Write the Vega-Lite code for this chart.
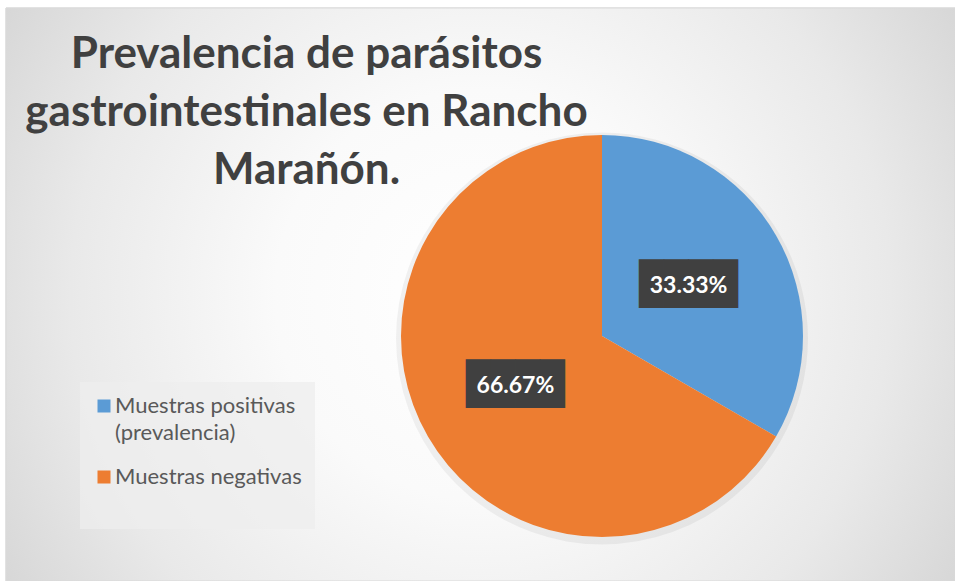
{
  "$schema": "https://vega.github.io/schema/vega-lite/v6.json",
  "width": 949,
  "height": 573,
  "autosize": {"type": "none"},
  "padding": {"left": 6, "top": 8, "right": 0, "bottom": 0},
  "background": "#ffffff",
  "title": {
    "text": ["Prevalencia de parásitos", "gastrointestinales en Rancho", "Marañón."],
    "anchor": "middle",
    "frame": "group",
    "dx": -174,
    "dy": 185,
    "offset": 0,
    "font": "Lato",
    "fontSize": 44,
    "fontWeight": "bold",
    "color": "#404040",
    "lineHeight": 58
  },
  "data": {
    "values": [
      {"categoria": "Muestras positivas (prevalencia)", "proporcion": 0.3333},
      {"categoria": "Muestras negativas", "proporcion": 0.6667}
    ]
  },
  "layer": [
    {
      "mark": {
        "type": "rect",
        "stroke": "#d9d9d9",
        "strokeWidth": 1,
        "fill": {
          "gradient": "radial",
          "x1": 0.5, "y1": 0.5, "r1": 0,
          "x2": 0.5, "y2": 0.5, "r2": 0.72,
          "stops": [
            {"offset": 0, "color": "#ffffff"},
            {"offset": 0.3, "color": "#fafafa"},
            {"offset": 0.6, "color": "#e9e9e9"},
            {"offset": 0.8, "color": "#d8d8d8"},
            {"offset": 1, "color": "#c6c6c6"}
          ]
        }
      },
      "encoding": {}
    },
    {
      "mark": {"type": "arc", "outerRadius": 206, "xOffset": 121.5, "yOffset": 44, "fill": "#000000", "opacity": 0.05},
      "encoding": {
        "theta": {"field": "proporcion", "type": "quantitative", "stack": true},
        "order": {"field": "proporcion", "sort": "ascending"}
      }
    },
    {
      "mark": {"type": "arc", "outerRadius": 201, "xOffset": 121.5, "yOffset": 41.5},
      "encoding": {
        "theta": {"field": "proporcion", "type": "quantitative", "stack": true},
        "order": {"field": "proporcion", "sort": "ascending"},
        "color": {
          "field": "categoria",
          "type": "nominal",
          "scale": {
            "domain": ["Muestras positivas (prevalencia)", "Muestras negativas"],
            "range": ["#5B9BD5", "#ED7D31"]
          },
          "legend": {
            "orient": "none",
            "legendX": 74,
            "legendY": 374,
            "title": " ",
            "titleOrient": "bottom",
            "titlePadding": 14,
            "titleFontSize": 14,
            "padding": 13,
            "fillColor": "rgba(238,238,238,0.75)",
            "strokeColor": null,
            "symbolType": "square",
            "symbolSize": 169,
            "symbolStrokeWidth": 0,
            "labelFont": "Lato",
            "labelFontSize": 22,
            "labelColor": "#595959",
            "labelOffset": 0,
            "labelLimit": 300,
            "rowPadding": 22,
            "labelExpr": "datum.label == 'Muestras negativas' ? datum.label : ['Muestras positivas', '(prevalencia)']"
          }
        }
      }
    },
    {
      "mark": {"type": "text", "radius": 100, "xOffset": 121.5, "yOffset": 41.5, "text": "████", "font": "DejaVu Sans Mono", "fontSize": 41, "color": "#404040", "baseline": "middle"},
      "encoding": {
        "theta": {"field": "proporcion", "type": "quantitative", "stack": true},
        "order": {"field": "proporcion", "sort": "ascending"}
      }
    },
    {
      "mark": {"type": "text", "radius": 100, "xOffset": 121.5, "yOffset": 41.5, "font": "Lato", "fontSize": 23, "fontWeight": "bold", "color": "#ffffff", "baseline": "middle"},
      "encoding": {
        "theta": {"field": "proporcion", "type": "quantitative", "stack": true},
        "order": {"field": "proporcion", "sort": "ascending"},
        "text": {"field": "proporcion", "type": "quantitative", "format": ".2%"}
      }
    }
  ],
  "config": {
    "view": {"stroke": null},
    "style": {"guide-label": {"lineHeight": 27}}
  }
}
